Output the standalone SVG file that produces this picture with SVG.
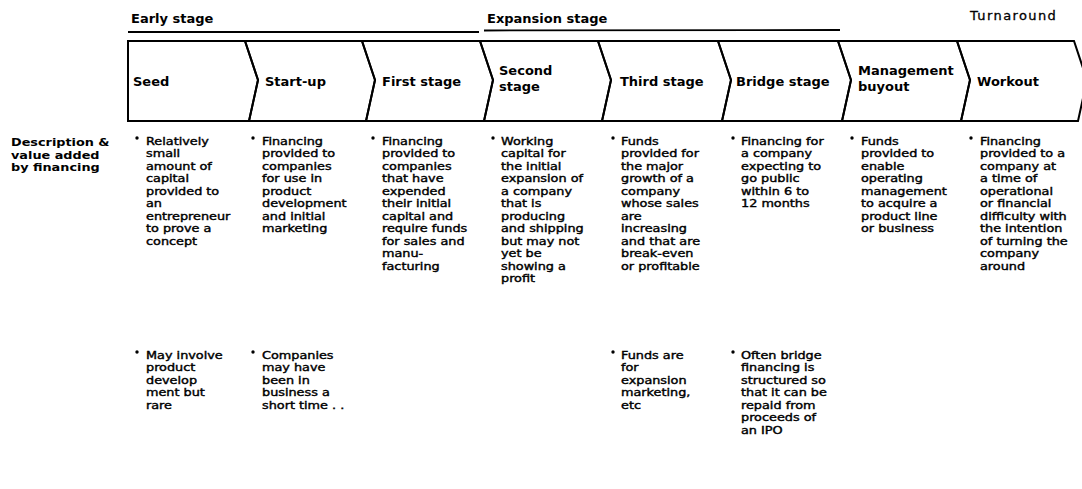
<svg xmlns="http://www.w3.org/2000/svg" width="1082" height="489" viewBox="0 0 1082 489">
  <style>
    .stagebar { fill: none; stroke: #000; stroke-width: 2; stroke-linejoin: miter; }
    .phase { font-family: "DejaVu Sans", "Liberation Sans", sans-serif; font-size: 13px; font-weight: bold; fill: #000; }
    .phase-light { font-family: "DejaVu Sans", "Liberation Sans", sans-serif; font-size: 13px; fill: #000; letter-spacing: 1.4px; stroke: #000; stroke-width: 0.3; }
    .rule { stroke: #000; stroke-width: 1.8; }
    .label { font-family: "DejaVu Sans", "Liberation Sans", sans-serif; font-size: 13px; font-weight: bold; fill: #000; }
    .rowlabel { font-family: "DejaVu Sans", "Liberation Sans", sans-serif; font-size: 10.7px; font-weight: bold; fill: #000; }
    .body { font-family: "DejaVu Sans", "Liberation Sans", sans-serif; font-size: 10.7px; fill: #000; stroke: #000; stroke-width: 0.4; }
    .dot { fill: #000; }
  </style>

  <!-- phase headings -->
  <g id="phases">
    <text class="phase" x="131" y="23">Early stage</text>
    <text class="phase" x="487" y="23">Expansion stage</text>
    <text class="phase-light" x="970" y="20">Turnaround</text>
  </g>
  <!-- underline rules spanning each phase -->
  <g id="connectors">
    <line class="rule" x1="128" y1="32" x2="479" y2="32"/>
    <line class="rule" x1="484" y1="30.5" x2="840" y2="30"/>
  </g>

  <!-- row heading (text blocks are widened horizontally to fit the print face) -->
  <g id="row-label" transform="translate(11 146) scale(1.2 1)">
    <text class="rowlabel">
      <tspan x="0" y="0">Description &amp;</tspan>
      <tspan x="0" y="12.7">value added</tspan>
      <tspan x="0" y="25.4">by financing</tspan>
    </text>
  </g>

  <!-- Seed -->
  <g id="seed">
    <polygon class="stagebar" points="128,41 245,41 258,80 249,121 128,121"/>
    <text class="label" x="133" y="86">Seed</text>
    <circle class="dot" cx="137" cy="138" r="1.7"/>
    <g transform="translate(146 145) scale(1.2 1)">
      <text class="body">
        <tspan x="0" y="0">Relatively</tspan>
        <tspan x="0" y="12.5">small</tspan>
        <tspan x="0" y="25">amount of</tspan>
        <tspan x="0" y="37.5">capital</tspan>
        <tspan x="0" y="50">provided to</tspan>
        <tspan x="0" y="62.5">an</tspan>
        <tspan x="0" y="75">entrepreneur</tspan>
        <tspan x="0" y="87.5">to prove a</tspan>
        <tspan x="0" y="100">concept</tspan>
      </text>
    </g>
    <circle class="dot" cx="137" cy="352" r="1.7"/>
    <g transform="translate(146 359) scale(1.2 1)">
      <text class="body">
        <tspan x="0" y="0">May involve</tspan>
        <tspan x="0" y="12.5">product</tspan>
        <tspan x="0" y="25">develop</tspan>
        <tspan x="0" y="37.5">ment but</tspan>
        <tspan x="0" y="50">rare</tspan>
      </text>
    </g>
  </g>

  <!-- Start-up -->
  <g id="start-up">
    <polygon class="stagebar" points="245,41 362,41 375,80 366,121 249,121 258,80"/>
    <text class="label" x="265" y="86">Start-up</text>
    <circle class="dot" cx="253" cy="138" r="1.7"/>
    <g transform="translate(262 145) scale(1.2 1)">
      <text class="body">
        <tspan x="0" y="0">Financing</tspan>
        <tspan x="0" y="12.5">provided to</tspan>
        <tspan x="0" y="25">companies</tspan>
        <tspan x="0" y="37.5">for use in</tspan>
        <tspan x="0" y="50">product</tspan>
        <tspan x="0" y="62.5">development</tspan>
        <tspan x="0" y="75">and initial</tspan>
        <tspan x="0" y="87.5">marketing</tspan>
      </text>
    </g>
    <circle class="dot" cx="253" cy="352" r="1.7"/>
    <g transform="translate(262 359) scale(1.2 1)">
      <text class="body">
        <tspan x="0" y="0">Companies</tspan>
        <tspan x="0" y="12.5">may have</tspan>
        <tspan x="0" y="25">been in</tspan>
        <tspan x="0" y="37.5">business a</tspan>
        <tspan x="0" y="50">short time . .</tspan>
      </text>
    </g>
  </g>

  <!-- First stage -->
  <g id="first-stage">
    <polygon class="stagebar" points="362,41 480,41 493,80 484,121 366,121 375,80"/>
    <text class="label" x="382" y="86">First stage</text>
    <circle class="dot" cx="373" cy="138" r="1.7"/>
    <g transform="translate(382 145) scale(1.2 1)">
      <text class="body">
        <tspan x="0" y="0">Financing</tspan>
        <tspan x="0" y="12.5">provided to</tspan>
        <tspan x="0" y="25">companies</tspan>
        <tspan x="0" y="37.5">that have</tspan>
        <tspan x="0" y="50">expended</tspan>
        <tspan x="0" y="62.5">their initial</tspan>
        <tspan x="0" y="75">capital and</tspan>
        <tspan x="0" y="87.5">require funds</tspan>
        <tspan x="0" y="100">for sales and</tspan>
        <tspan x="0" y="112.5">manu-</tspan>
        <tspan x="0" y="125">facturing</tspan>
      </text>
    </g>
  </g>

  <!-- Second stage -->
  <g id="second-stage">
    <polygon class="stagebar" points="480,41 598,41 611,80 602,121 484,121 493,80"/>
    <text class="label" x="499" y="75">Second</text>
    <text class="label" x="499" y="91">stage</text>
    <circle class="dot" cx="493" cy="138" r="1.7"/>
    <g transform="translate(501 145) scale(1.2 1)">
      <text class="body">
        <tspan x="0" y="0">Working</tspan>
        <tspan x="0" y="12.5">capital for</tspan>
        <tspan x="0" y="25">the initial</tspan>
        <tspan x="0" y="37.5">expansion of</tspan>
        <tspan x="0" y="50">a company</tspan>
        <tspan x="0" y="62.5">that is</tspan>
        <tspan x="0" y="75">producing</tspan>
        <tspan x="0" y="87.5">and shipping</tspan>
        <tspan x="0" y="100">but may not</tspan>
        <tspan x="0" y="112.5">yet be</tspan>
        <tspan x="0" y="125">showing a</tspan>
        <tspan x="0" y="137.5">profit</tspan>
      </text>
    </g>
  </g>

  <!-- Third stage -->
  <g id="third-stage">
    <polygon class="stagebar" points="598,41 718,41 731,80 722,121 602,121 611,80"/>
    <text class="label" x="620" y="86">Third stage</text>
    <circle class="dot" cx="613" cy="138" r="1.7"/>
    <g transform="translate(621 145) scale(1.2 1)">
      <text class="body">
        <tspan x="0" y="0">Funds</tspan>
        <tspan x="0" y="12.5">provided for</tspan>
        <tspan x="0" y="25">the major</tspan>
        <tspan x="0" y="37.5">growth of a</tspan>
        <tspan x="0" y="50">company</tspan>
        <tspan x="0" y="62.5">whose sales</tspan>
        <tspan x="0" y="75">are</tspan>
        <tspan x="0" y="87.5">increasing</tspan>
        <tspan x="0" y="100">and that are</tspan>
        <tspan x="0" y="112.5">break-even</tspan>
        <tspan x="0" y="125">or profitable</tspan>
      </text>
    </g>
    <circle class="dot" cx="613" cy="352" r="1.7"/>
    <g transform="translate(621 359) scale(1.2 1)">
      <text class="body">
        <tspan x="0" y="0">Funds are</tspan>
        <tspan x="0" y="12.5">for</tspan>
        <tspan x="0" y="25">expansion</tspan>
        <tspan x="0" y="37.5">marketing,</tspan>
        <tspan x="0" y="50">etc</tspan>
      </text>
    </g>
  </g>

  <!-- Bridge stage -->
  <g id="bridge-stage">
    <polygon class="stagebar" points="718,41 838,41 851,80 842,121 722,121 731,80"/>
    <text class="label" x="736" y="86">Bridge stage</text>
    <circle class="dot" cx="733" cy="138" r="1.7"/>
    <g transform="translate(741 145) scale(1.2 1)">
      <text class="body">
        <tspan x="0" y="0">Financing for</tspan>
        <tspan x="0" y="12.5">a company</tspan>
        <tspan x="0" y="25">expecting to</tspan>
        <tspan x="0" y="37.5">go public</tspan>
        <tspan x="0" y="50">within 6 to</tspan>
        <tspan x="0" y="62.5">12 months</tspan>
      </text>
    </g>
    <circle class="dot" cx="733" cy="352" r="1.7"/>
    <g transform="translate(741 359) scale(1.2 1)">
      <text class="body">
        <tspan x="0" y="0">Often bridge</tspan>
        <tspan x="0" y="12.5">financing is</tspan>
        <tspan x="0" y="25">structured so</tspan>
        <tspan x="0" y="37.5">that it can be</tspan>
        <tspan x="0" y="50">repaid from</tspan>
        <tspan x="0" y="62.5">proceeds of</tspan>
        <tspan x="0" y="75">an IPO</tspan>
      </text>
    </g>
  </g>

  <!-- Management buyout -->
  <g id="management-buyout">
    <polygon class="stagebar" points="838,41 957,41 970,80 961,121 842,121 851,80"/>
    <text class="label" x="858" y="75">Management</text>
    <text class="label" x="858" y="91">buyout</text>
    <circle class="dot" cx="852" cy="138" r="1.7"/>
    <g transform="translate(861 145) scale(1.2 1)">
      <text class="body">
        <tspan x="0" y="0">Funds</tspan>
        <tspan x="0" y="12.5">provided to</tspan>
        <tspan x="0" y="25">enable</tspan>
        <tspan x="0" y="37.5">operating</tspan>
        <tspan x="0" y="50">management</tspan>
        <tspan x="0" y="62.5">to acquire a</tspan>
        <tspan x="0" y="75">product line</tspan>
        <tspan x="0" y="87.5">or business</tspan>
      </text>
    </g>
  </g>

  <!-- Workout -->
  <g id="workout">
    <polygon class="stagebar" points="957,41 1074,41 1087,80 1078,121 961,121 970,80"/>
    <text class="label" x="977" y="86">Workout</text>
    <circle class="dot" cx="971" cy="138" r="1.7"/>
    <g transform="translate(980 145) scale(1.2 1)">
      <text class="body">
        <tspan x="0" y="0">Financing</tspan>
        <tspan x="0" y="12.5">provided to a</tspan>
        <tspan x="0" y="25">company at</tspan>
        <tspan x="0" y="37.5">a time of</tspan>
        <tspan x="0" y="50">operational</tspan>
        <tspan x="0" y="62.5">or financial</tspan>
        <tspan x="0" y="75">difficulty with</tspan>
        <tspan x="0" y="87.5">the intention</tspan>
        <tspan x="0" y="100">of turning the</tspan>
        <tspan x="0" y="112.5">company</tspan>
        <tspan x="0" y="125">around</tspan>
      </text>
    </g>
  </g>
</svg>
